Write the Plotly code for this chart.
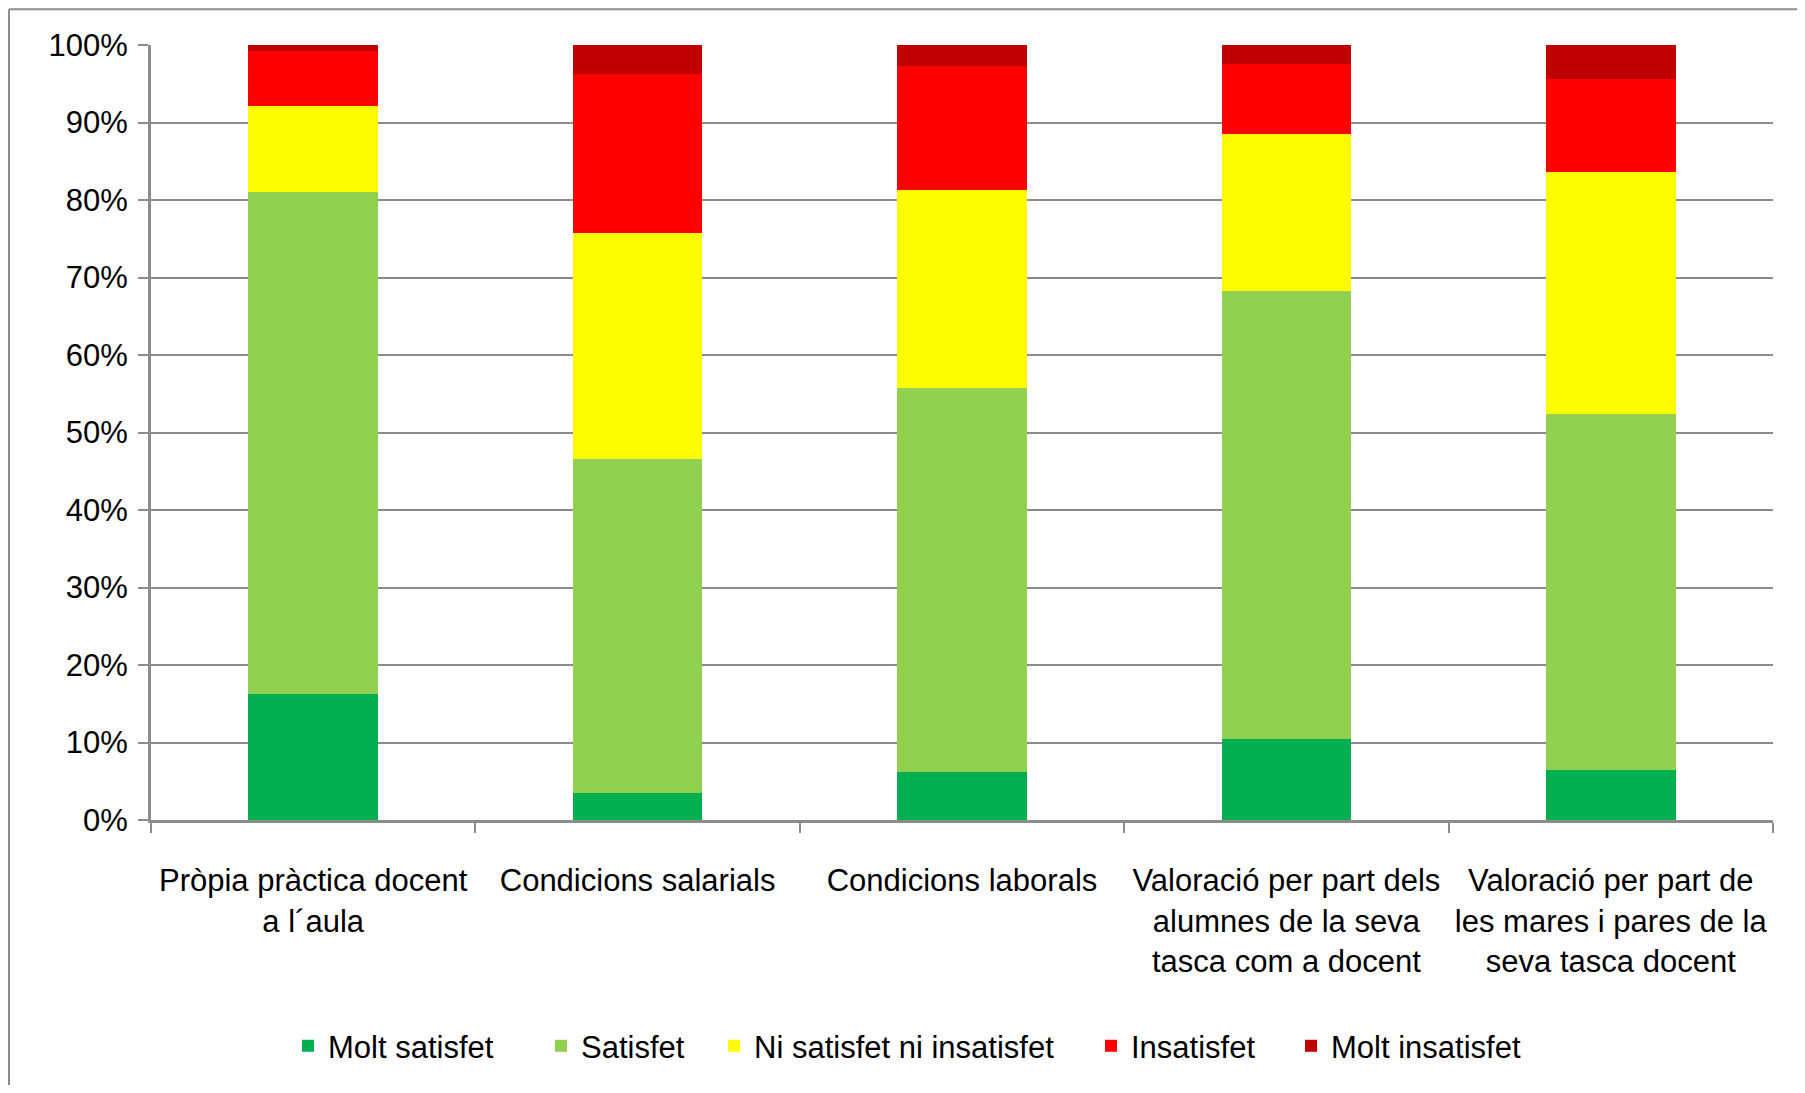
import plotly.graph_objects as go

categories = [
    "Pròpia pràctica docent<br>a l´aula",
    "Condicions salarials",
    "Condicions laborals",
    "Valoració per part dels<br>alumnes de la seva<br>tasca com a docent",
    "Valoració per part de<br>les mares i pares de la<br>seva tasca docent",
]

molt_satisfet = [16.2, 3.5, 6.2, 10.4, 6.5]
satisfet = [64.8, 43.1, 49.5, 57.9, 45.9]
ni_satisfet_ni_insatisfet = [11.1, 29.2, 25.6, 20.2, 31.2]
insatisfet = [7.1, 20.5, 16.0, 9.1, 12.0]
molt_insatisfet = [0.8, 3.7, 2.7, 2.4, 4.4]

series_names = ["Molt satisfet", "Satisfet", "Ni satisfet ni insatisfet", "Insatisfet", "Molt insatisfet"]
series_values = [molt_satisfet, satisfet, ni_satisfet_ni_insatisfet, insatisfet, molt_insatisfet]
series_colors = ["#00B050", "#92D050", "#FFFF00", "#FF0000", "#C00000"]

y_ticks = list(range(0, 101, 10))

FONT = "Liberation Sans, Arial, sans-serif"
GRID = "#8C8C8C"

# page body has an 8px margin; figure coordinates are relative to the figure div
W, H = 1789, 1077
L, R, T, B = 143, 24, 37, 262
pw = W - L - R
ph = H - T - B

def px_x(p):
    return (p - L) / pw

def px_y(p):
    return (H - B - p) / ph

legend_ids = ["legend", "legend2", "legend3", "legend4", "legend5"]
legend_left_px = [280, 533, 706, 1083, 1283]

fig = go.Figure()
for name, vals, col, lid in zip(series_names, series_values, series_colors, legend_ids):
    fig.add_trace(go.Bar(
        x=categories, y=vals, name=name, legend=lid, showlegend=True,
        marker=dict(color=col, line=dict(width=0)),
    ))

legend_layouts = {}
for lid, lx in zip(legend_ids, legend_left_px):
    legend_layouts[lid] = dict(
        orientation="h",
        x=px_x(lx), xanchor="left",
        y=px_y(1042), yanchor="middle",
        font=dict(family=FONT, size=31, color="black"),
        bgcolor="rgba(0,0,0,0)",
        itemwidth=30,
    )

fig.update_layout(
    width=W, height=H,
    showlegend=True,
    barmode="stack", bargap=0.6,
    margin=dict(l=L, r=R, t=T, b=B),
    paper_bgcolor="white", plot_bgcolor="white",
    font=dict(family=FONT, size=31, color="black"),
    xaxis=dict(
        type="category",
        showline=True, linecolor=GRID, linewidth=3,
        ticks="outside", tickson="boundaries", ticklen=10, tickcolor=GRID, tickwidth=2,
        showgrid=False,
        ticklabelstandoff=31,
        tickfont=dict(family=FONT, size=31, color="black"),
    ),
    yaxis=dict(
        range=[0, 100],
        tickvals=y_ticks,
        ticktext=[f"{v}%" for v in y_ticks],
        showline=True, linecolor=GRID, linewidth=3,
        ticks="outside", ticklen=10, tickcolor=GRID, tickwidth=2,
        showgrid=True, gridcolor=GRID, gridwidth=2,
        zeroline=False,
        ticklabelstandoff=4,
        tickfont=dict(family=FONT, size=31, color="black"),
    ),
    shapes=[
        dict(type="line", xref="paper", yref="paper",
             x0=px_x(1), x1=px_x(W + 20), y0=px_y(1), y1=px_y(1),
             line=dict(color="#8C8C8C", width=2)),
        dict(type="line", xref="paper", yref="paper",
             x0=px_x(1), x1=px_x(1), y0=px_y(1), y1=px_y(H + 20),
             line=dict(color="#8C8C8C", width=2)),
    ],
    **legend_layouts,
)

fig.write_html("out.html")
